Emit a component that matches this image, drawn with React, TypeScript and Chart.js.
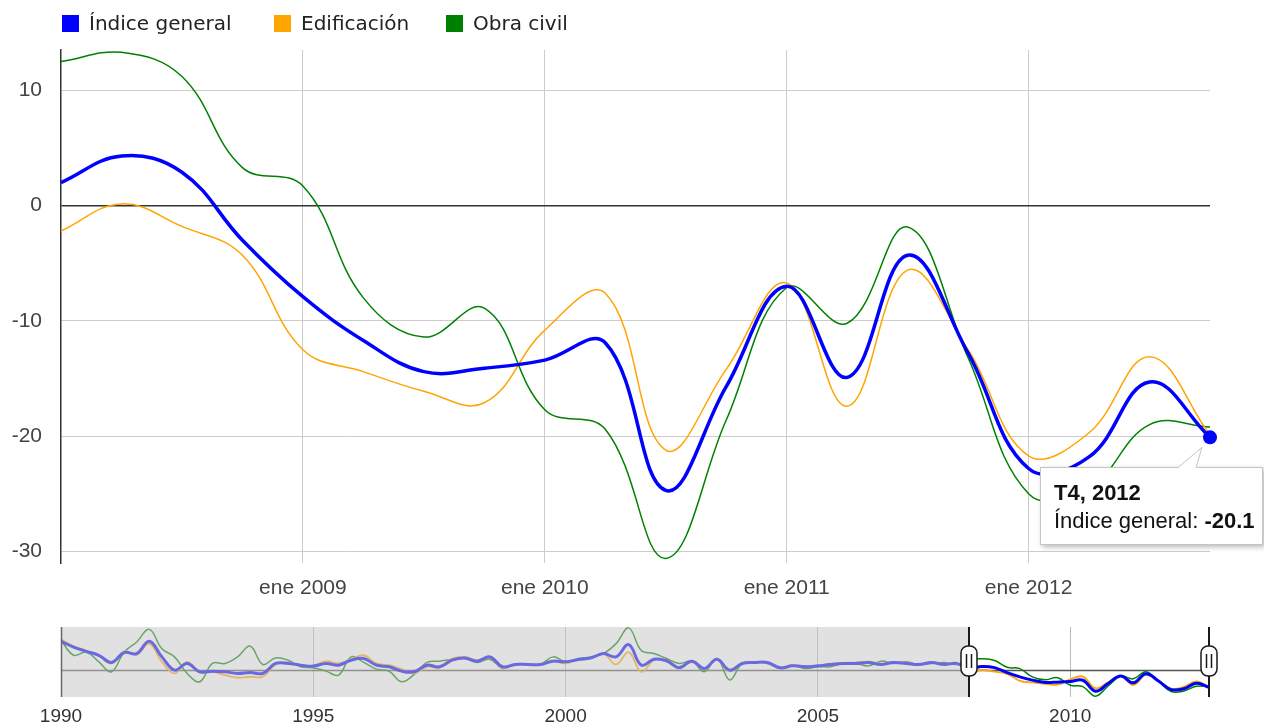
import React, { useEffect, useRef } from 'react';
import { Chart, registerables } from 'chart.js';

Chart.register(...registerables);

// ---------- DATA ----------
const seriesNames = ['Índice general', 'Edificación', 'Obra civil'];
const seriesColors = ['#0000ff', '#ffa500', '#008000'];

// Main view: quarterly, T1 2008 .. T4 2012
const mainStartYear = 2008;
const mainQuarterLabels = [
  'T1, 2008', 'T2, 2008', 'T3, 2008', 'T4, 2008',
  'T1, 2009', 'T2, 2009', 'T3, 2009', 'T4, 2009',
  'T1, 2010', 'T2, 2010', 'T3, 2010', 'T4, 2010',
  'T1, 2011', 'T2, 2011', 'T3, 2011', 'T4, 2011',
  'T1, 2012', 'T2, 2012', 'T3, 2012', 'T4, 2012',
];
const mainGeneral = [2.0, 4.3, 2.9, -3.0, -7.9, -11.7, -14.4, -14.1, -13.4, -11.9, -24.7, -15.7, -7.0, -14.9, -4.3, -12.8, -22.8, -21.8, -15.3, -20.1];
const mainEdificacion = [-2.2, 0.15, -1.8, -4.3, -12.5, -14.4, -16.1, -17.1, -10.8, -7.6, -21.2, -14.2, -6.7, -17.4, -5.6, -12.5, -21.7, -19.7, -13.1, -19.9];
const mainObraCivil = [12.5, 13.3, 11.2, 3.3, 1.7, -8.0, -11.4, -8.9, -17.7, -19.4, -30.6, -18.6, -7.1, -10.2, -1.85, -13.2, -25.0, -24.5, -19.0, -19.2];

// History (range selector): quarterly, T1 1990 .. T4 2007
const histStartYear = 1990;
const histGeneral = [
  33.7, 27, 22, 17.4, 9, 20.5, 19.4, 33.7, 15.5, 0, 7.8, -2, -1.2, -2, -3.9, -2.7, -3.9, 7.8, 7.8, 5.8, 4.7, 7.8, 5.8, 11.6, 13.6,
  5.8, 3.9, -1.2, -2, 5.8, 3.9, 11.6, 14.3, 10.5, 15.5, 3.9, 6.6, 6.6, 6.6, 10.5, 9.7, 12.4, 14.3, 19.4, 15.5, 29.8, 5.8, 12.8, 11,
  2.7, 10.5, 2, 12.8, 0, 7.8, 9, 9, 2.7, 5, 3.9, 5, 6.6, 7.8, 7.8, 9, 6.6, 9, 7.8, 6.6, 9, 6.6, 7.8,
];
const histEdificacion = [
  36, 28, 23, 17, 7.8, 22, 18, 31, 9.7, -3.9, 9.7, -2.7, -2, -5.8, -8.9, -7.8, -7.8, 6.6, 9, 5.8, 5, 10.5, 7.8, 12.8, 17.4,
  7.8, 5.8, 1.2, -3.9, 3.9, 2.7, 13.6, 15.5, 11.6, 15.5, 2.7, 6.6, 6.6, 6.6, 10.5, 7.8, 12.4, 13.6, 19.4, 6.6, 21, -2, 11.6, 11.6,
  3.5, 9.5, 1, 12, -1.5, 8.5, 9.5, 8, 3.5, 6, 4.5, 5.5, 7.5, 8.5, 9, 10, 7.5, 9.5, 8.5, 6, 9.5, 7, 8,
];
const histObraCivil = [
  35, 17.4, 21, 9.7, -2, 21, 33, 47.7, 25, 15.5, -3.9, -13.6, 7.8, 7.8, 15.5, 28, 6.6, 14.3, 11.6, 3.9, 2.7, -1.2, -5.8, 15.5, 9,
  1.2, -1.2, -13.6, -5, 9, 10.5, 12.8, 13.6, 9, 12.8, 2, 6.6, 6.6, 6.6, 15.5, 9.7, 13.6, 15.5, 19.4, 31, 49.5, 23, 19.4, 13.6,
  7.8, 10.5, -2, 13.6, -11.6, 7.8, 9.7, 7.8, 2, 5.8, 2, 3.9, 3.9, 7.8, 7.8, 5, 10.5, 7.8, 9.7, 6.6, 7.8, 9, 6.6,
];

const mainXTickYears = [2009, 2010, 2011, 2012];
const mainXTickPrefix = 'ene';
const mainYTicks = [-30, -20, -10, 0, 10];
const mainYMin = -31;
const mainYMax = 13.5;
const navXTicks = [1990, 1995, 2000, 2005, 2010];
const navYMin = -31.5;
const navYMax = 50.5;

// ---------- HELPERS ----------
const FONT = '"Liberation Sans", Arial, sans-serif';
const toPoints = (start: number, vals: number[]) => vals.map((v, i) => ({ x: start + i / 4, y: v }));
const mainEnd = mainStartYear + (mainGeneral.length - 1) / 4;

const tooltipPlugin = {
  id: 'fixedTip',
  afterDraw(chart: any) {
    const ctx = chart.ctx;
    const meta = chart.getDatasetMeta(0);
    const el = meta.data[meta.data.length - 1];
    const px = el.x;
    const py = el.y;
    const bx = Math.round(px - 170);
    const by = Math.round(py + 30);
    const bw = 223;
    const bh = 78;
    ctx.save();
    ctx.shadowColor = 'rgba(0,0,0,0.28)';
    ctx.shadowBlur = 5;
    ctx.shadowOffsetX = 2;
    ctx.shadowOffsetY = 2;
    ctx.fillStyle = '#fff';
    ctx.fillRect(bx, by, bw, bh);
    ctx.restore();
    ctx.save();
    ctx.strokeStyle = '#c4c4c4';
    ctx.lineWidth = 1;
    ctx.strokeRect(bx + 0.5, by + 0.5, bw - 1, bh - 1);
    // tail
    ctx.beginPath();
    ctx.moveTo(px - 32, by + 1);
    ctx.lineTo(px - 8, py + 10);
    ctx.lineTo(px - 14, by + 1);
    ctx.closePath();
    ctx.fillStyle = '#fff';
    ctx.fill();
    ctx.beginPath();
    ctx.moveTo(px - 32, by + 0.5);
    ctx.lineTo(px - 8, py + 10);
    ctx.lineTo(px - 14, by + 0.5);
    ctx.stroke();
    // text
    const last = mainGeneral.length - 1;
    ctx.fillStyle = '#111';
    ctx.textBaseline = 'alphabetic';
    ctx.textAlign = 'left';
    ctx.font = 'bold 22px ' + FONT;
    ctx.fillText(mainQuarterLabels[last], bx + 14, by + 33);
    ctx.font = '22px ' + FONT;
    const lab = seriesNames[0] + ': ';
    ctx.fillText(lab, bx + 14, by + 61);
    const w = ctx.measureText(lab).width;
    ctx.font = 'bold 22px ' + FONT;
    ctx.fillText(mainGeneral[last].toFixed(1), bx + 14 + w, by + 61);
    ctx.restore();
  },
};

const navPlugin = {
  id: 'navDecor',
  beforeDatasetsDraw(chart: any) {
    const { ctx, chartArea: a, scales } = chart;
    const y0 = Math.round(scales.y.getPixelForValue(0)) + 0.5;
    ctx.save();
    ctx.strokeStyle = '#555';
    ctx.lineWidth = 1.5;
    ctx.beginPath();
    ctx.moveTo(a.left, y0);
    ctx.lineTo(a.right, y0);
    ctx.stroke();
    ctx.restore();
  },
  afterDatasetsDraw(chart: any) {
    const { ctx, chartArea: a, scales } = chart;
    const xs = Math.round(scales.x.getPixelForValue(mainStartYear));
    const xe = Math.round(scales.x.getPixelForValue(mainEnd));
    ctx.save();
    ctx.fillStyle = 'rgba(198,198,198,0.53)';
    ctx.fillRect(a.left, a.top, xs - a.left, a.bottom - a.top);
    ctx.strokeStyle = '#666';
    ctx.lineWidth = 1.5;
    ctx.beginPath();
    ctx.moveTo(a.left + 0.5, a.top);
    ctx.lineTo(a.left + 0.5, a.bottom);
    ctx.stroke();
    for (const hx of [xs, xe]) {
      ctx.strokeStyle = '#1a1a1a';
      ctx.lineWidth = 2;
      ctx.beginPath();
      ctx.moveTo(hx, a.top);
      ctx.lineTo(hx, a.bottom);
      ctx.stroke();
      const cy = a.top + 34;
      ctx.beginPath();
      (ctx as any).roundRect(hx - 8, cy - 15, 16, 30, 7);
      ctx.fillStyle = '#fff';
      ctx.fill();
      ctx.lineWidth = 1.5;
      ctx.stroke();
      ctx.lineWidth = 1.5;
      ctx.beginPath();
      ctx.moveTo(hx - 2.5, cy - 7);
      ctx.lineTo(hx - 2.5, cy + 7);
      ctx.moveTo(hx + 2.5, cy - 7);
      ctx.lineTo(hx + 2.5, cy + 7);
      ctx.stroke();
    }
    ctx.restore();
  },
};

export default function App() {
  const mainRef = useRef<HTMLCanvasElement>(null);
  const navRef = useRef<HTMLCanvasElement>(null);

  useEffect(() => {
    const mainSeries = [mainGeneral, mainEdificacion, mainObraCivil];
    const widths = [3.5, 1.5, 1.5];
    const main = new Chart(mainRef.current as HTMLCanvasElement, {
      type: 'line',
      data: {
        datasets: mainSeries.map((vals, i) => ({
          label: seriesNames[i],
          data: toPoints(mainStartYear, vals),
          borderColor: seriesColors[i],
          backgroundColor: seriesColors[i],
          borderWidth: widths[i],
          tension: 0.4,
          fill: false,
          clip: false,
          pointRadius: vals.map((_, j) => (i === 0 && j === vals.length - 1 ? 7 : 0)),
          pointBorderWidth: 0,
          pointHoverRadius: 0,
        })),
      },
      options: {
        animation: false,
        responsive: false,
        events: [],
        layout: { padding: { top: 50, right: 54, left: 0, bottom: 0 } },
        plugins: { legend: { display: false }, tooltip: { enabled: false } },
        scales: {
          x: {
            type: 'linear',
            min: mainStartYear,
            max: mainEnd,
            afterBuildTicks: (s: any) => { s.ticks = mainXTickYears.map((v) => ({ value: v })); },
            afterFit: (s: any) => { s.height = 47; },
            border: { display: false },
            grid: { color: '#cccccc', lineWidth: 1, drawTicks: false },
            ticks: {
              callback: (v: any) => mainXTickPrefix + ' ' + v,
              font: { family: FONT, size: 21 },
              color: '#444',
              padding: 13,
              maxRotation: 0,
              autoSkip: false,
            },
          },
          y: {
            type: 'linear',
            min: mainYMin,
            max: mainYMax,
            afterBuildTicks: (s: any) => { s.ticks = mainYTicks.map((v) => ({ value: v })); },
            afterFit: (s: any) => { s.width = 61; },
            border: { display: true, color: '#333', width: 1.5 },
            grid: {
              color: (c: any) => (c.tick && c.tick.value === 0 ? '#333' : '#cccccc'),
              lineWidth: (c: any) => (c.tick && c.tick.value === 0 ? 1.5 : 1),
              drawTicks: false,
            },
            ticks: {
              font: { family: FONT, size: 21 },
              color: '#444',
              padding: 19,
            },
          },
        },
      },
      plugins: [tooltipPlugin],
    } as any);

    const histSeries = [histGeneral, histEdificacion, histObraCivil];
    const navWidths = [3, 1.8, 1.5];
    const nav = new Chart(navRef.current as HTMLCanvasElement, {
      type: 'line',
      data: {
        datasets: histSeries.map((vals, i) => ({
          label: seriesNames[i],
          data: toPoints(histStartYear, vals.concat(mainSeries[i])),
          borderColor: seriesColors[i],
          borderWidth: navWidths[i],
          tension: 0.4,
          fill: false,
          pointRadius: 0,
        })),
      },
      options: {
        animation: false,
        responsive: false,
        events: [],
        layout: { padding: { top: 7, right: 55, left: 61, bottom: 0 } },
        plugins: { legend: { display: false }, tooltip: { enabled: false } },
        scales: {
          x: {
            type: 'linear',
            min: histStartYear,
            max: mainEnd,
            afterBuildTicks: (s: any) => { s.ticks = navXTicks.map((v) => ({ value: v })); },
            afterFit: (s: any) => { s.height = 25; },
            border: { display: false },
            grid: { color: '#bbbbbb', lineWidth: 1, drawTicks: false },
            ticks: {
              callback: (v: any) => String(v),
              font: { family: FONT, size: 19 },
              color: '#333',
              padding: 8,
              maxRotation: 0,
              autoSkip: false,
            },
          },
          y: { type: 'linear', display: false, min: navYMin, max: navYMax },
        },
      },
      plugins: [navPlugin],
    } as any);

    return () => {
      main.destroy();
      nav.destroy();
    };
  }, []);

  const legendX = [62, 274, 446];
  return (
    <div style={{ position: 'fixed', left: 0, top: 0, width: 1264, height: 722, background: '#fff', overflow: 'hidden' }}>
      <canvas ref={mainRef} width={1264} height={610} style={{ position: 'absolute', left: 0, top: 0, width: 1264, height: 610 }} />
      <canvas ref={navRef} width={1264} height={102} style={{ position: 'absolute', left: 0, top: 620, width: 1264, height: 102 }} />
      {seriesNames.map((n, i) => (
        <div key={n} style={{ position: 'absolute', left: legendX[i], top: 10, height: 26, display: 'flex', alignItems: 'center', whiteSpace: 'nowrap' }}>
          <span style={{ display: 'inline-block', width: 17, height: 17, background: seriesColors[i], marginRight: 10 }} />
          <span style={{ fontFamily: '"DejaVu Sans", sans-serif', fontSize: 20, color: '#222' }}>{n}</span>
        </div>
      ))}
    </div>
  );
}
